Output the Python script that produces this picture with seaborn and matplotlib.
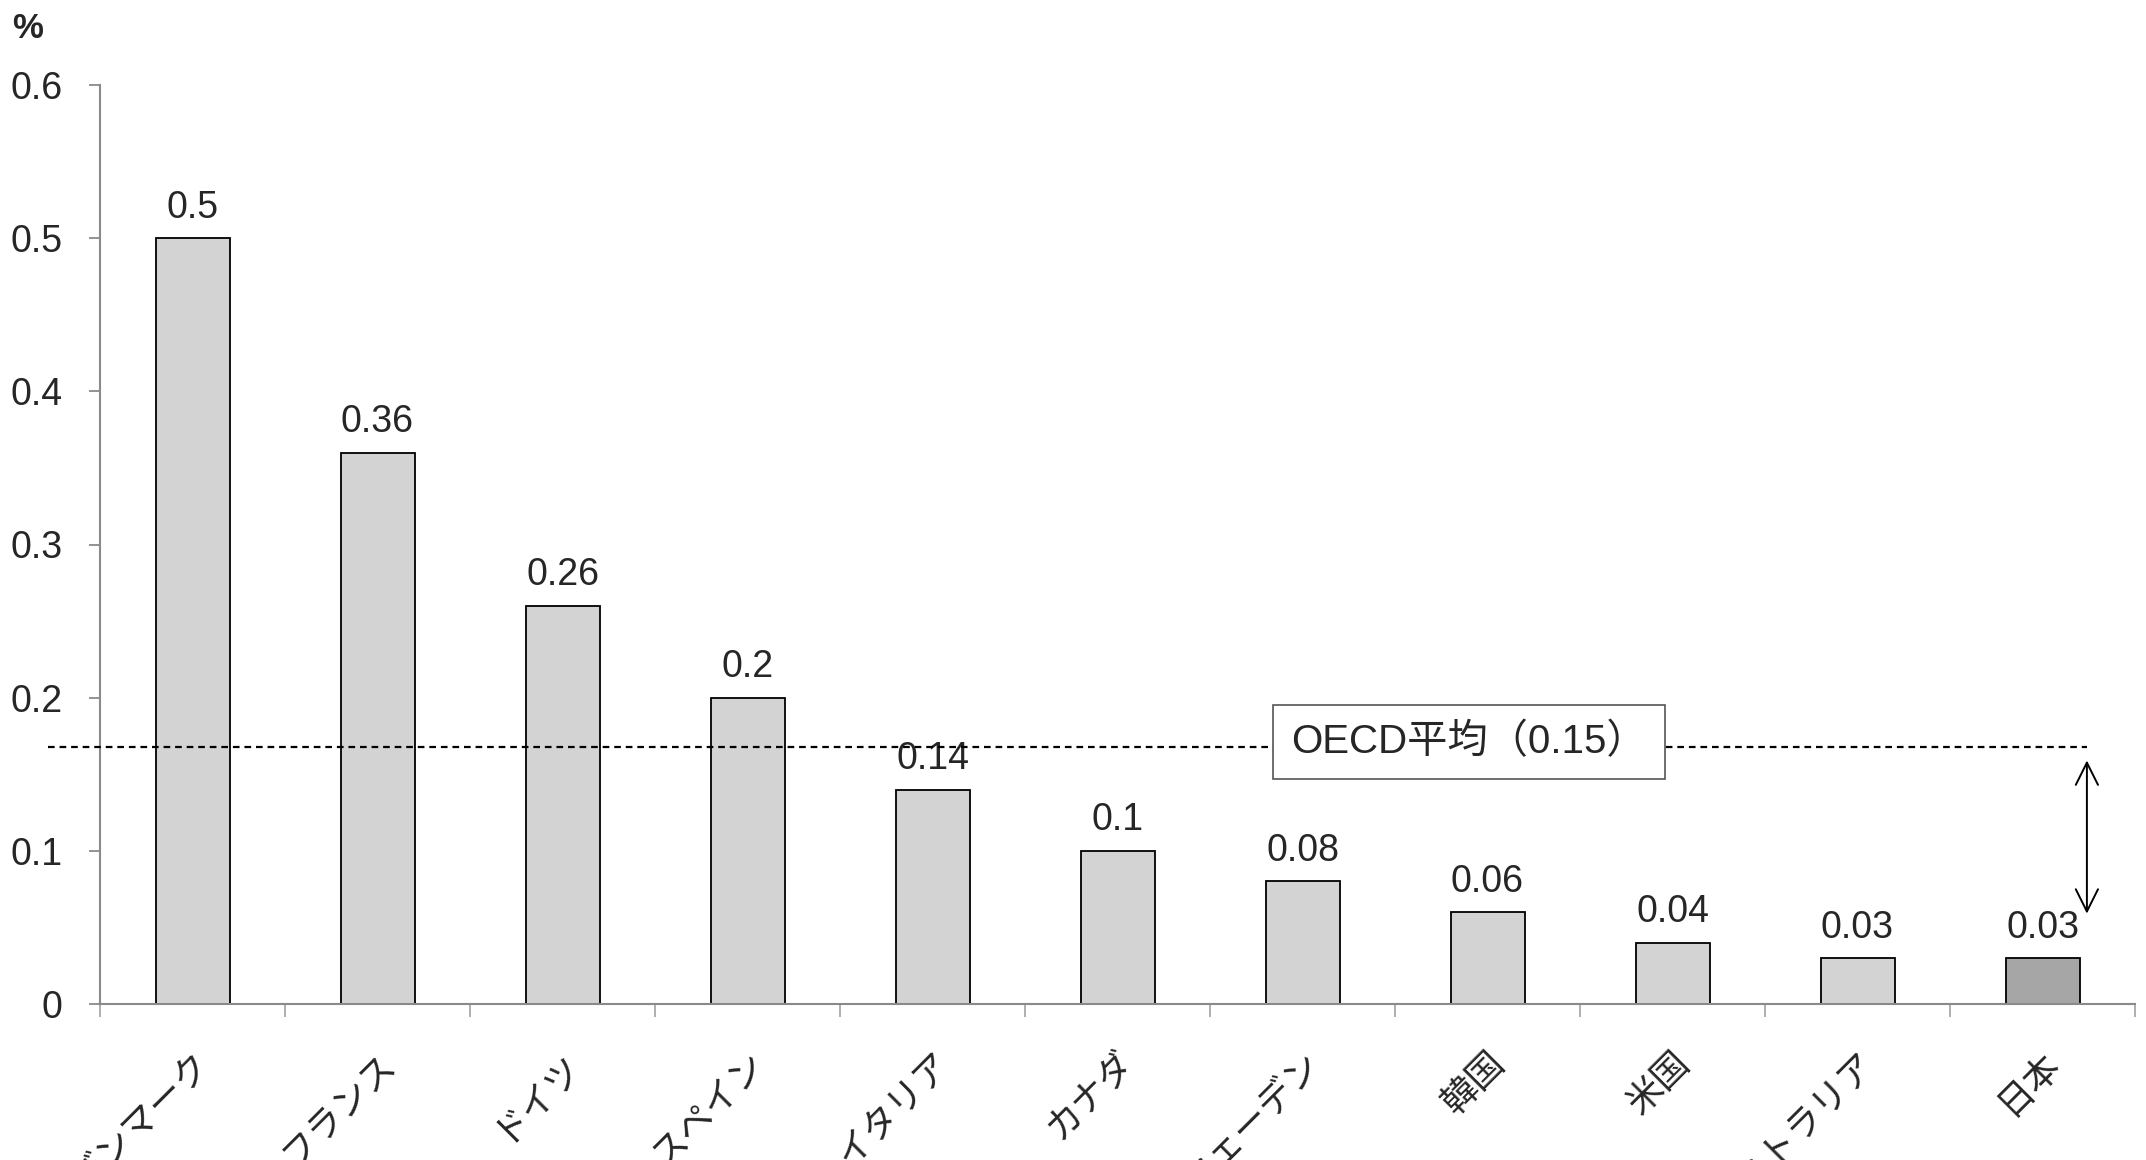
import matplotlib
matplotlib.use("Agg")
import matplotlib.pyplot as plt
import seaborn as sns
import pandas as pd
import numpy as np

countries = ["デンマーク", "フランス", "ドイツ", "スペイン", "イタリア", "カナダ",
             "スウェーデン", "韓国", "米国", "オーストラリア", "日本"]
values = [0.5, 0.36, 0.26, 0.2, 0.14, 0.1, 0.08, 0.06, 0.04, 0.03, 0.03]
value_labels = ["0.5", "0.36", "0.26", "0.2", "0.14", "0.1", "0.08", "0.06", "0.04", "0.03", "0.03"]
yticks = [0, 0.1, 0.2, 0.3, 0.4, 0.5, 0.6]
ytick_labels = ["0", "0.1", "0.2", "0.3", "0.4", "0.5", "0.6"]
oecd_line = 0.168
oecd_label = "OECD平均（0.15）"

sns.set_theme(style="white")
plt.rcParams['font.family'] = ['Liberation Sans', 'Noto Sans CJK JP', 'DejaVu Sans']

df = pd.DataFrame({"country": countries, "value": values})
colors = ["#d3d3d3"] * (len(countries) - 1) + ["#a6a6a6"]

W, H = 2146, 1160
fig = plt.figure(figsize=(W / 100, H / 100), dpi=100)
ax = fig.add_axes([100 / W, (H - 1004) / H, 2035 / W, (1004 - 85) / H])

sns.barplot(data=df, x="country", y="value", hue="country", palette=colors,
            legend=False, width=0.4, edgecolor="black", linewidth=1.3,
            saturation=1, ax=ax)

ax.set_xlim(-0.5, len(countries) - 0.5)
ax.set_ylim(0, 0.6)
ax.set_xlabel("")
ax.set_ylabel("")

for s in ["top", "right"]:
    ax.spines[s].set_visible(False)
for s in ["left", "bottom"]:
    ax.spines[s].set_color("#8a8a8a")
    ax.spines[s].set_linewidth(1.5)

ax.set_yticks(yticks)
ax.set_yticklabels(ytick_labels)
ax.tick_params(axis="y", which="major", direction="out", length=8, width=1.3,
               color="#8a8a8a", labelsize=27, pad=19, left=True)

ax.set_xticks(range(len(countries)))
ax.set_xticklabels(countries, rotation=45, ha="right", va="top",
                   rotation_mode="anchor", fontsize=26)
ax.tick_params(axis="x", which="major", length=0, pad=30)
ax.set_xticks(np.arange(-0.5, len(countries), 1.0), minor=True)
ax.tick_params(axis="x", which="minor", direction="out", length=9, width=1.3,
               color="#a8a8a8", bottom=True)

for i, (v, lab) in enumerate(zip(values, value_labels)):
    ax.annotate(lab, (i, v), xytext=(0, 9), textcoords="offset points",
                ha="center", va="bottom", fontsize=27)

ax.plot([-0.78, 10.24], [oecd_line, oecd_line], color="black", lw=1.6,
        linestyle=(0, (3, 2.2)), clip_on=False, zorder=3)

ax.text(6.90, 0.171, oecd_label, ha="center", va="center", fontsize=29,
        zorder=5,
        bbox=dict(boxstyle="square,pad=0.45", facecolor="white",
                  edgecolor="#555555", linewidth=1.2))

ax.annotate("", xy=(10.24, 0.059), xytext=(10.24, 0.159),
            arrowprops=dict(arrowstyle="<->", color="black", lw=1.4,
                            mutation_scale=40, shrinkA=0, shrinkB=0),
            annotation_clip=False)

fig.text(12 / W, 1 - 12 / H, "%", ha="left", va="top", fontsize=25,
         fontweight="bold")

fig.savefig("out.png", dpi=100)
